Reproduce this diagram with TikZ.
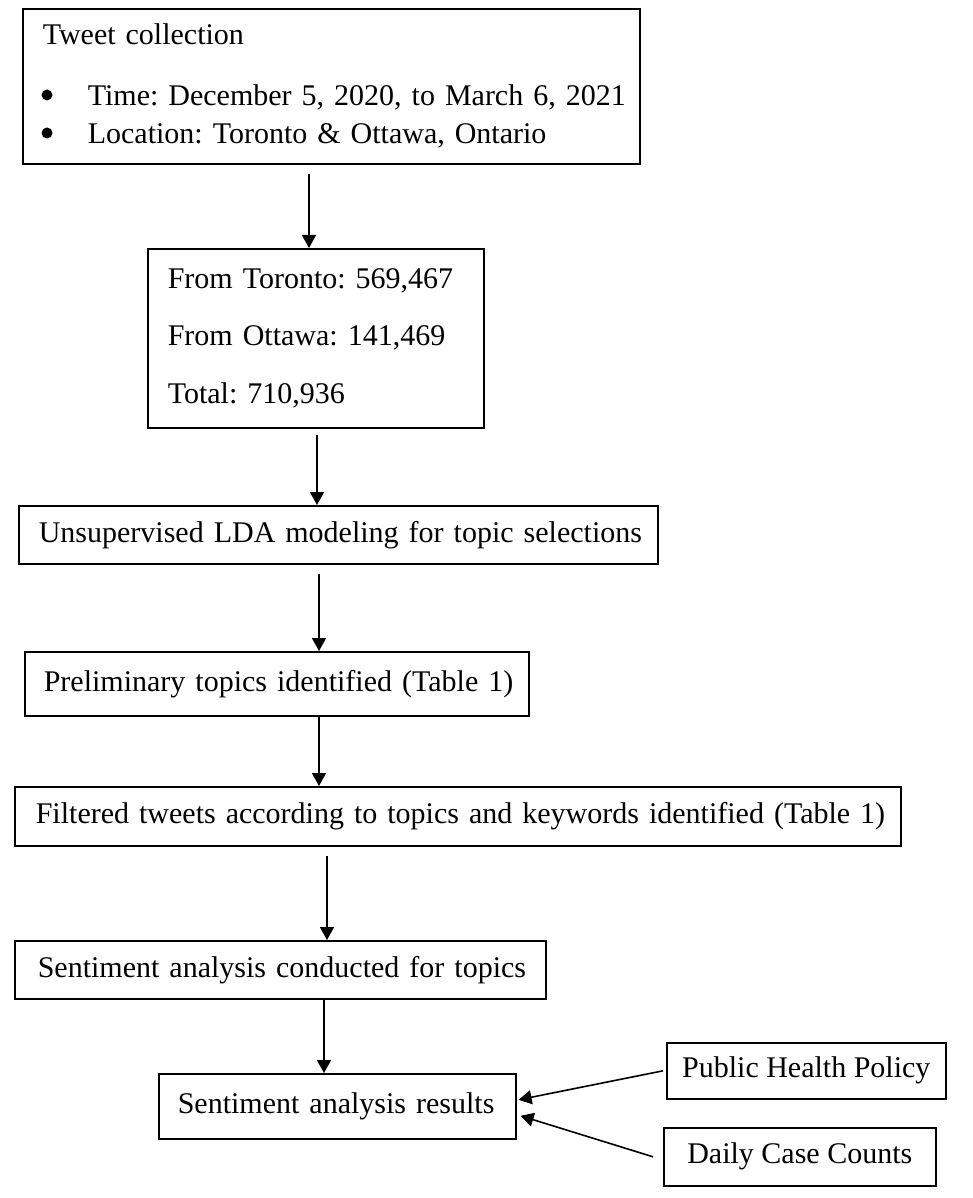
\documentclass[tikz,border=0pt]{standalone}
\usepackage{fontspec}
\setmainfont{Liberation Serif}
\usetikzlibrary{arrows.meta}
\begin{document}
\frenchspacing
\begin{tikzpicture}[x=1pt,y=-1pt,
  box/.style={draw, line width=1.6pt, anchor=north west, inner xsep=20pt, inner ysep=0pt, align=left,
    font=\fontsize{30}{36}\selectfont},
  cbox/.style={draw, line width=1.6pt, anchor=north west, inner xsep=0pt, inner ysep=0pt, align=center,
    font=\fontsize{30}{36}\selectfont},
  dot/.style={fill=black, draw=none},
  arr/.style={line width=1.6pt, -{Triangle[length=13pt,width=14pt]}}]
\useasboundingbox (0,0) rectangle (972,1198);
\node[box, text width=577pt, minimum height=155pt] (b1) at (22,8)
  {\mbox{Tweet collection}\\[25pt]\mbox{\hspace{45pt}Time: December 5, 2020, to March 6, 2021}\\[2pt]\mbox{\hspace{45pt}Location: Toronto \& Ottawa, Ontario}};
\fill[dot] (47,95) circle (5.5pt);
\fill[dot] (47,133) circle (5.5pt);
\node[box, text width=296pt, minimum height=179pt] (b2) at (147,248)
  {\mbox{From Toronto: 569,467}\\[21.5pt]\mbox{From Ottawa: 141,469}\\[21.5pt]\mbox{Total: 710,936}};
\node[box, text width=599pt, minimum height=58pt] (b3) at (18,505)
  {\mbox{Unsupervised LDA modeling for topic selections}};
\node[box, text width=466pt, inner xsep=19pt, minimum height=64pt] (b4) at (24,651)
  {\mbox{Preliminary topics identified (Table 1)}};
\node[box, text width=844pt, inner xsep=21pt, minimum height=59pt] (b5) at (14,786)
  {\mbox{Filtered tweets according to topics and keywords identified (Table 1)}};
\node[box, text width=485pt, inner xsep=23pt, minimum height=58pt] (b6) at (14,940)
  {\mbox{Sentiment analysis conducted for topics}};
\node[box, text width=319pt, inner xsep=19pt, minimum height=65pt] (b7) at (158,1073)
  {\mbox{Sentiment analysis results}};
\node[cbox, minimum width=279pt, minimum height=56pt] (b8) at (666,1042)
  {Public Health Policy};
\node[cbox, minimum width=272pt, minimum height=58pt] (b9) at (663,1127)
  {Daily Case Counts};
\draw[arr] ([xshift=287pt,yshift=-9pt]b1.south west) -- ([xshift=162pt]b2.north west);
\draw[arr] ([xshift=170pt,yshift=-6pt]b2.south west) -- ([xshift=299pt]b3.north west);
\draw[arr] ([xshift=301pt,yshift=-9pt]b3.south west) -- ([xshift=295pt]b4.north west);
\draw[arr] ([xshift=295pt]b4.south west) -- ([xshift=305pt]b5.north west);
\draw[arr] ([xshift=313pt,yshift=-9pt]b5.south west) -- ([xshift=313pt]b6.north west);
\draw[arr] ([xshift=310pt]b6.south west) -- ([xshift=166pt]b7.north west);
\draw[arr] ([xshift=-3pt]b8.west) -- ([xshift=2pt,yshift=6.5pt]b7.east);
\draw[arr] ([xshift=-10pt]b9.west) -- ([xshift=4pt,yshift=-9.5pt]b7.east);
\end{tikzpicture}
\end{document}
